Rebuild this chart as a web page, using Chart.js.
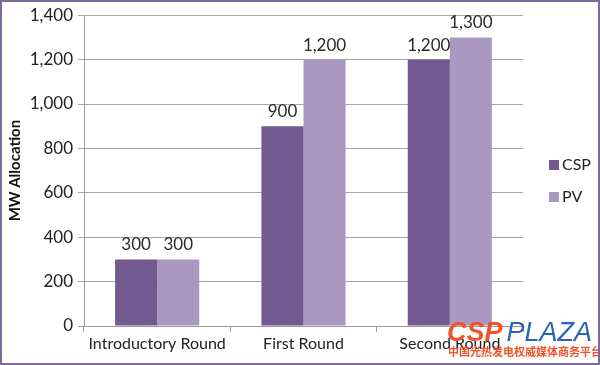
<!DOCTYPE html>
<html><head><meta charset="utf-8">
<script src="https://cdn.jsdelivr.net/npm/chart.js@4"></script>
<style>html,body{margin:0;padding:0;background:#fff}#wrap{width:600px;height:365px;position:relative}</style>
</head><body><div id="wrap"><canvas id="c" width="600" height="365"></canvas></div>
<script>
const categories = ["Introductory Round", "First Round", "Second Round"];
const seriesNames = ["CSP", "PV"];
const cspValues = [300, 900, 1200];
const pvValues = [300, 1200, 1300];
const yTicks = [0, 200, 400, 600, 800, 1000, 1200, 1400];
const colors = ["#72598F", "#A999C0"];
const FONT = "Lato, 'Liberation Sans', sans-serif";

const fmt = v => v.toLocaleString('en-US');

const extras = {
  id: 'extras',
  afterDatasetsDraw(chart) {
    const ctx = chart.ctx;
    ctx.save();
    ctx.font = "17px " + FONT;
    ctx.fillStyle = "#2a2a2a";
    ctx.textAlign = "center";
    ctx.textBaseline = "bottom";
    chart.data.datasets.forEach((ds, i) => {
      chart.getDatasetMeta(i).data.forEach((bar, j) => {
        ctx.fillText(fmt(ds.data[j]), bar.x, bar.y - 6);
      });
    });
    // legend
    ctx.textAlign = "left";
    ctx.textBaseline = "middle";
    ctx.font = "16px " + FONT;
    const ly = [165, 197];
    chart.data.datasets.forEach((ds, i) => {
      ctx.fillStyle = ds.backgroundColor;
      ctx.fillRect(549, ly[i] - 5, 10, 10);
      ctx.fillStyle = "#222";
      ctx.fillText(ds.label, 562, ly[i]);
    });
    ctx.restore();
  },
  afterDraw(chart) {
    const ctx = chart.ctx;
    ctx.save();
    // watermark
    ctx.font = "italic bold 27px 'Liberation Sans', sans-serif";
    ctx.textBaseline = "alphabetic";
    ctx.textAlign = "left";
    ctx.fillStyle = "#F0532A";
    ctx.fillText("CSP", 447, 341);
    const w = ctx.measureText("CSP").width;
    ctx.font = "italic 27px 'Liberation Sans', sans-serif";
    ctx.fillStyle = "#2A63B8";
    ctx.fillText("PLAZA", 447 + w + 4, 341);
    ctx.font = "bold 11px 'Noto Sans CJK SC', sans-serif";
    ctx.fillStyle = "#F0532A";
    ctx.fillText("中国光热发电权威媒体商务平台", 448, 356);
    // border
    ctx.strokeStyle = "#7E6A98";
    ctx.lineWidth = 2;
    ctx.strokeRect(1, 1, 598, 363);
    ctx.restore();
  }
};

new Chart(document.getElementById('c'), {
  type: 'bar',
  data: {
    labels: categories,
    datasets: [
      { label: seriesNames[0], data: cspValues, backgroundColor: colors[0] },
      { label: seriesNames[1], data: pvValues, backgroundColor: colors[1] }
    ]
  },
  options: {
    responsive: false,
    animation: false,
    devicePixelRatio: 1,
    layout: { padding: { left: 0, right: 77, top: 13, bottom: 0 } },
    plugins: { legend: { display: false }, tooltip: { enabled: false } },
    datasets: { bar: { categoryPercentage: 0.575, barPercentage: 1.0 } },
    scales: {
      x: {
        grid: { drawOnChartArea: false, drawTicks: true, tickLength: 6, color: "#9A9A9A" },
        border: { color: "#9A9A9A" },
        ticks: { color: "#222", font: { family: FONT, size: 16 }, padding: 2 },
        afterFit(s) { s.height = 39; }
      },
      y: {
        min: 0, max: 1400,
        afterBuildTicks(s) { s.ticks = yTicks.map(v => ({ value: v })); },
        grid: { color: "#A6A6A6", tickLength: 6 },
        border: { color: "#9A9A9A" },
        ticks: { color: "#222", font: { family: FONT, size: 17 }, padding: 5, callback: v => fmt(v) },
        title: { display: true, text: "MW Allocation", color: "#111", font: { family: FONT, size: 15, weight: 'bold' }, padding: { top: 6, bottom: 0 } },
        afterFit(s) { s.width = 84; }
      }
    }
  },
  plugins: [extras]
});
</script>
</body></html>
